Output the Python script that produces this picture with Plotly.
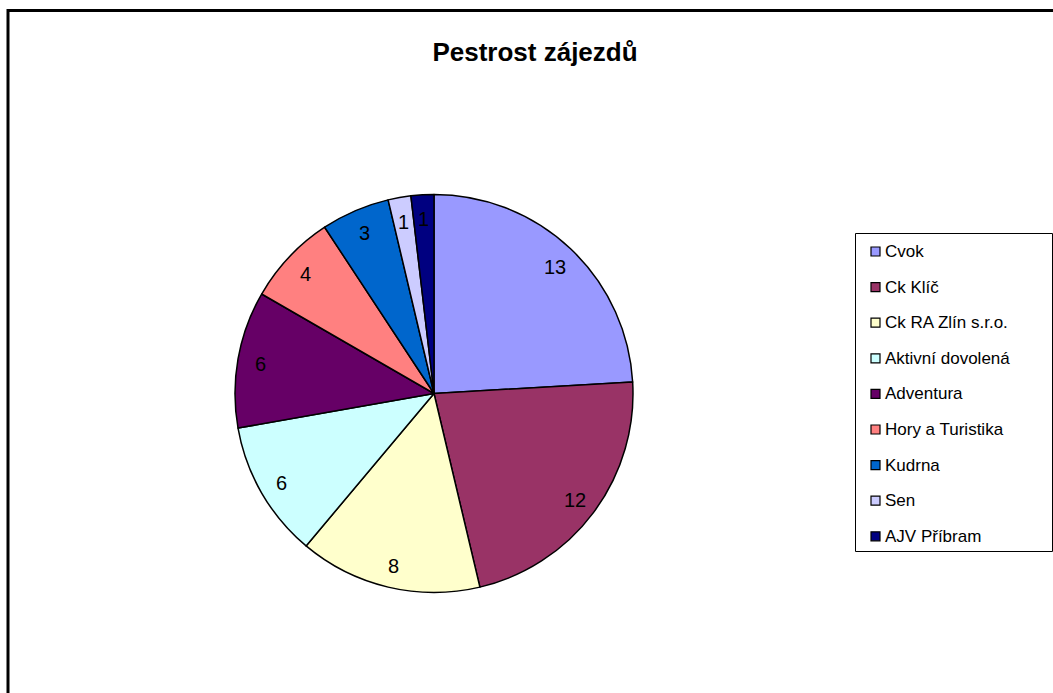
import math
import plotly.graph_objects as go

labels = ['Cvok', 'Ck Klíč', 'Ck RA Zlín s.r.o.', 'Aktivní dovolená', 'Adventura',
          'Hory a Turistika', 'Kudrna', 'Sen', 'AJV Příbram']
values = [13, 12, 8, 6, 6, 4, 3, 1, 1]
colors = ['#9999FF', '#993366', '#FFFFCC', '#CCFFFF', '#660066',
          '#FF8080', '#0066CC', '#CCCCFF', '#000080']

W, H = 1053, 693
cx, cy, r = 434, 393.5, 199

fig = go.Figure()
fig.add_trace(go.Pie(labels=labels, values=values, sort=False, direction='clockwise',
                     rotation=0, marker=dict(colors=colors, line=dict(color='black', width=1.5)),
                     textinfo='none', hoverinfo='label+value', showlegend=False,
                     domain=dict(x=[(cx - r) / W, (cx + r) / W],
                                 y=[1 - (cy + r) / H, 1 - (cy - r) / H])))

# value labels near the outer rim, like the Excel original
total = sum(values)
cum = 0
for v in values:
    ang = math.radians(90 - 360 * (cum + v / 2) / total)
    cum += v
    px_ = cx + 0.885 * r * math.cos(ang)
    py_ = cy - 0.885 * r * math.sin(ang) + 1.5
    fig.add_annotation(x=px_ / W, y=1 - py_ / H, xref='paper', yref='paper', text=str(v),
                       xanchor='center', yanchor='middle',
                       showarrow=False, font=dict(size=20, color='black'))

# hand-drawn legend
shapes = [dict(type='rect', xref='paper', yref='paper', x0=8 / W, x1=1.01, y0=-0.01, y1=1 - 10.5 / H,
               line=dict(color='black', width=3), layer='below'),
          dict(type='rect', xref='paper', yref='paper', x0=855.5 / W, x1=1052.5 / W,
               y0=1 - 551.5 / H, y1=1 - 233.5 / H, line=dict(color='black', width=1))]
for i, (lab, col) in enumerate(zip(labels, colors)):
    yc = 251.5 + i * 35.6
    shapes.append(dict(type='rect', xref='paper', yref='paper', x0=871 / W, x1=880 / W,
                       y0=1 - (yc + 4.5) / H, y1=1 - (yc - 4.5) / H,
                       fillcolor=col, line=dict(color='black', width=1.2)))
    fig.add_annotation(x=883 / W, y=1 - yc / H, xref='paper', yref='paper', text=lab,
                       xanchor='left', yanchor='middle', showarrow=False,
                       font=dict(size=17, color='black'))

fig.update_layout(width=W, height=H, margin=dict(l=0, r=0, t=0, b=0),
                  paper_bgcolor='white', plot_bgcolor='white',
                  font=dict(family='Liberation Sans, Arial, sans-serif'),
                  title=dict(text='<b>Pestrost zájezdů</b>', x=535 / W, xanchor='center',
                             y=1 - 52 / H, yanchor='middle', font=dict(size=26, color='black')),
                  shapes=shapes)
fig.write_html('out.html', config={'displayModeBar': False},
               post_script="document.body.style.margin='0';")
